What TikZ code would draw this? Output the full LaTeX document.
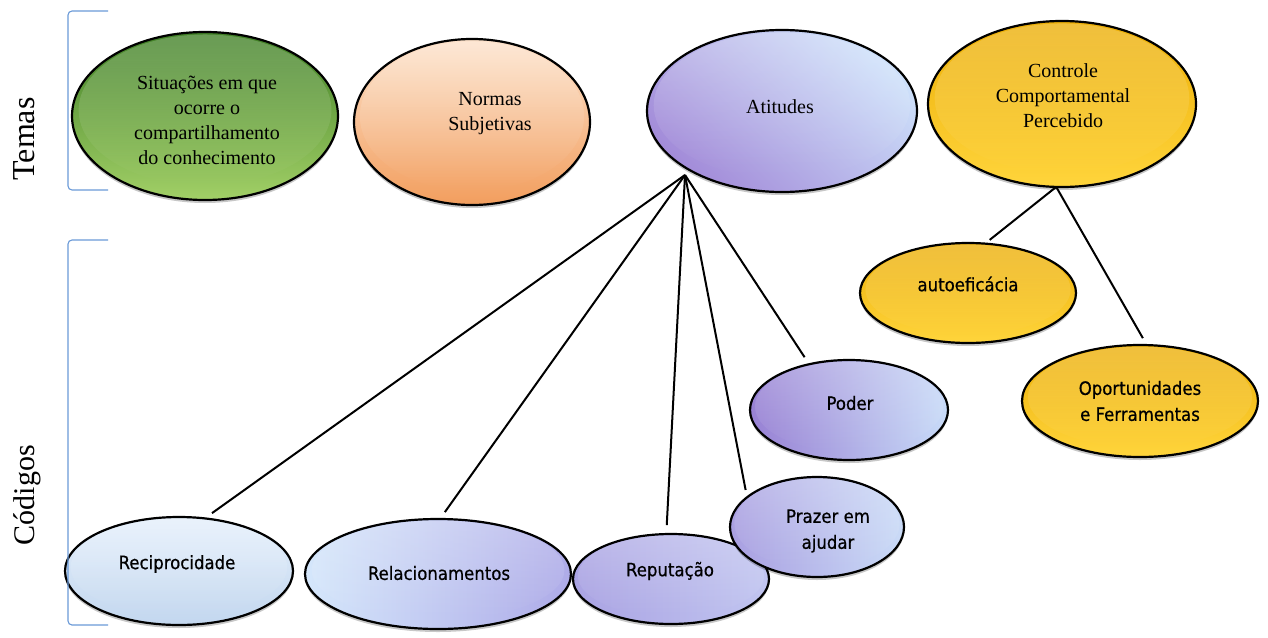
\documentclass[tikz,border=0pt]{standalone}
\usepackage{fontspec}
\setmainfont{Liberation Serif}
\newfontfamily\codefont[FakeBold=0.6]{DejaVu Sans Condensed}
\usetikzlibrary{shapes.geometric,shadows,fadings}

% palette
\definecolor{grTop}{HTML}{3F7F25}\definecolor{grMid}{HTML}{67A236}\definecolor{grBot}{HTML}{A2D067}
\definecolor{orTop}{HTML}{FDE2CB}\definecolor{orBot}{HTML}{F29E5E}
\definecolor{lvLight}{HTML}{CDE0FA}\definecolor{lvDark}{HTML}{A38CD9}
\definecolor{goTop}{HTML}{ECAE06}\definecolor{goBot}{HTML}{FFD53C}
\definecolor{rcTop}{HTML}{E4EFFB}\definecolor{rcBot}{HTML}{C3D7EF}
\definecolor{rlLeft}{HTML}{D5E7FB}\definecolor{rlRight}{HTML}{AEABE8}
\definecolor{rpLeft}{HTML}{AAA3E3}\definecolor{rpRight}{HTML}{C1C5F0}
\definecolor{pzLeft}{HTML}{A99FE1}\definecolor{pzRight}{HTML}{CADBF7}
\definecolor{pdLeft}{HTML}{9881D4}\definecolor{pdRight}{HTML}{C8DBF8}
\definecolor{brace}{HTML}{6A9AD8}

% glossy ellipse: node #1 at (#2,#3) with radii #4, #5 and fill style #6
\newcommand\mkbubble[6]{%
  \node[bubble,#6,minimum width=#4*2pt,minimum height=#5*2pt] (#1) at (#2,#3) {};
  \fill[white,opacity=0.22,path fading=south] (#2,#3-#5*0.07) ellipse [x radius=#4*0.95, y radius=#5*0.9];
}

\begin{document}
\begin{tikzpicture}[x=1pt,y=-1pt,
  bubble/.style={ellipse,draw=black,line width=2.2pt,inner sep=0pt,outer sep=0pt,
    drop shadow={shadow xshift=0pt,shadow yshift=-3pt,opacity=0.22,fill=black}},
  serif/.style={align=center,font=\fontsize{20}{25}\selectfont},
  sans/.style={align=center,font=\codefont\fontsize{18.4}{26}\selectfont},
  side/.style={rotate=90,anchor=base},
  link/.style={draw=black,line width=2pt},
  bracket/.style={draw=brace,line width=1.1pt,rounded corners=4pt}]

\useasboundingbox (0,0) rectangle (1268,637);
\fill[white] (0,0) rectangle (1268,637);

% themes
\mkbubble{sit}{205}{116}{133}{84}{top color=grTop,middle color=grMid,bottom color=grBot}
\mkbubble{norm}{472}{122}{118}{83}{top color=orTop,bottom color=orBot}
\mkbubble{atit}{782}{111}{135}{81}{top color=lvLight,bottom color=lvDark,shading angle=-45}
\mkbubble{ctrl}{1062}{104}{134}{83}{top color=goTop,bottom color=goBot}

% codes
\mkbubble{autoef}{968}{293}{108}{50}{top color=goTop,bottom color=goBot}
\mkbubble{oport}{1140}{401}{118}{56}{top color=goTop,bottom color=goBot}
\mkbubble{poder}{849}{410}{99}{50}{left color=pdLeft,right color=pdRight}
\mkbubble{recip}{179}{571}{114}{54}{top color=rcTop,bottom color=rcBot}
\mkbubble{relac}{438}{574}{133}{55}{left color=rlLeft,right color=rlRight}
\mkbubble{reput}{671}{579}{98}{45}{left color=rpLeft,right color=rpRight}
\mkbubble{prazer}{817}{527}{87}{50}{left color=pzLeft,right color=pzRight}

% labels
\node[serif] (sit-t) at (207,120) {Situações em que\\ocorre o\\compartilhamento\\do conhecimento};
\node[serif] (norm-t) at (490,114) {Normas\\Subjetivas};
\node[serif] (atit-t) at (780,107) {Atitudes};
\node[serif] (ctrl-t) at (1063,96) {Controle\\Comportamental\\Percebido};
\node[sans] (autoef-t) at (968,284) {autoeficácia};
\node[sans] (oport-t) at (1140,401) {Oportunidades\\e Ferramentas};
\node[sans] (poder-t) at (850,403) {Poder};
\node[sans] (prazer-t) at (828,531) {Prazer em\\ajudar};
\node[sans] (recip-t) at (177,564) {Reciprocidade};
\node[sans] (relac-t) at (439,573) {Relacionamentos};
\node[sans] (reput-t) at (670,571) {Reputação};

% connectors
\coordinate (hubA) at (685,175);
\coordinate (hubC) at (ctrl.266);
\draw[link,shorten >=9pt] (hubA) -- (recip.64);
\draw[link,shorten >=8.5pt] (hubA) -- (relac.88);
\draw[link,shorten >=9pt] (hubA) -- (reput.96);
\draw[link,shorten >=7.5pt] (hubA) -- (prazer.157);
\draw[link,shorten >=8.4pt] (hubA) -- (poder.131);
\draw[link,shorten >=6pt] (hubC) -- (autoef.71);
\draw[link,shorten >=8pt] (hubC) -- (oport.83);

% group brackets and their captions
\draw[bracket] (108,11) -- (68,11) -- (68,190) -- (108,190);
\draw[bracket] (108,240) -- (68,240) -- (68,625) -- (108,625);
\node[side,font=\fontsize{32}{32}\selectfont] (temas) at (34,139) {Temas};
\node[side,font=\fontsize{30}{30}\selectfont] (codigos) at (34,495) {Códigos};
\end{tikzpicture}
\end{document}
